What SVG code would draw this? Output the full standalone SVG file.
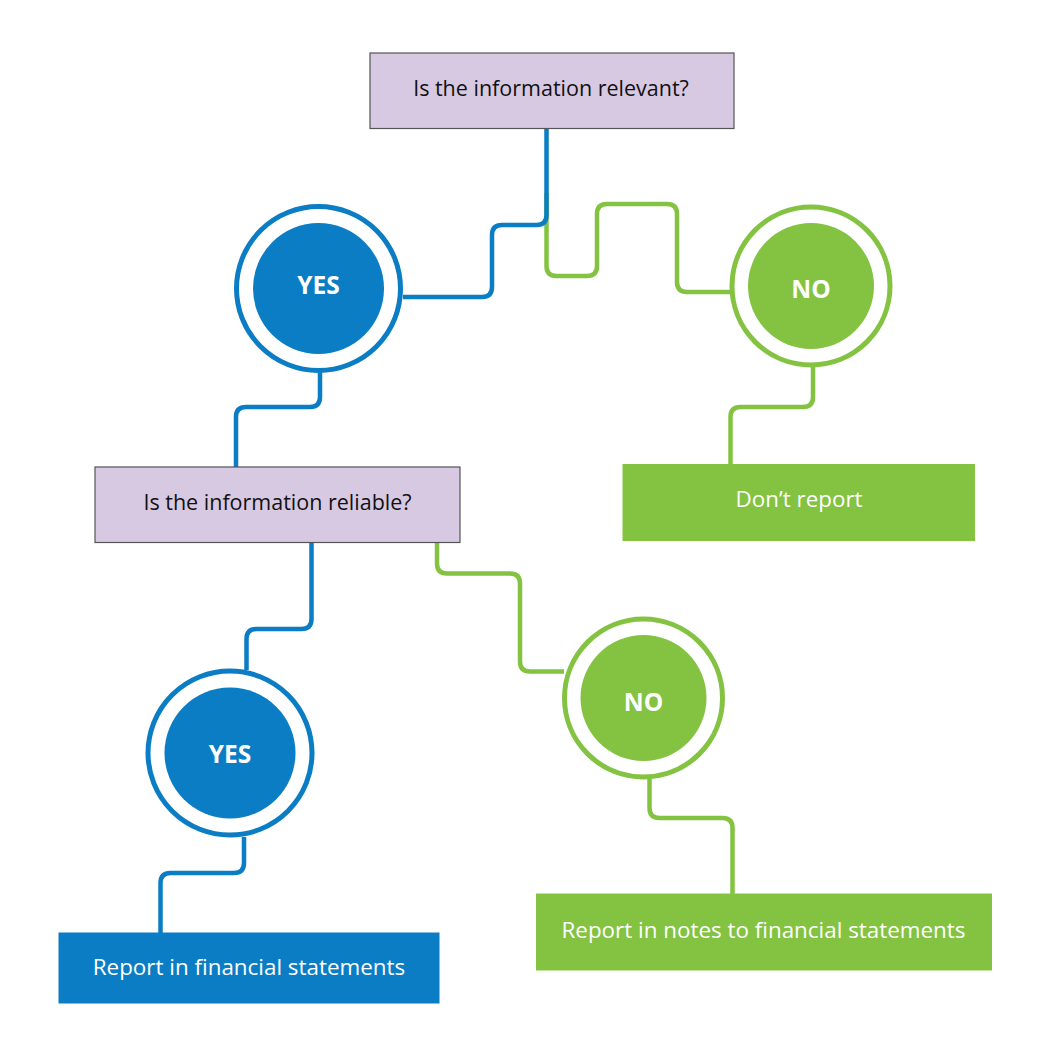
<svg xmlns="http://www.w3.org/2000/svg" width="1047" height="1042" viewBox="0 0 1047 1042">
<style>
.q{fill:#d8c9e3;stroke:#555;stroke-width:1.2}
.qt{font-family:"Open Sans","Noto Sans",sans-serif;font-size:21.5px;fill:#111;text-anchor:middle}
.rt{font-family:"Open Sans","Noto Sans",sans-serif;font-size:22.4px;fill:#fff;text-anchor:middle}
.ct{font-family:"Open Sans","Noto Sans",sans-serif;font-size:24.5px;font-weight:bold;fill:#fff;text-anchor:middle}
.cb{fill:none;stroke-width:4.5;stroke-linejoin:round}
.b{stroke:#0a7dc4}
.g{stroke:#83c341}
.bf{fill:#0a7dc4}
.gf{fill:#83c341}
.ring{fill:#fff;stroke-width:5}
</style>
<rect width="1047" height="1042" fill="#fff"/>
<g id="connectors">
<path class="cb g" d="M546.5 193 V266 Q546.5 276 556.5 276 H587 Q597 276 597 266 V214 Q597 204 607 204 H667 Q677 204 677 214 V282 Q677 292 687 292 H731"/>
<path class="cb b" d="M546.5 129 V215 Q546.5 225 536.5 225 H502 Q492 225 492 235 V287 Q492 297 482 297 H403"/>
<path class="cb b" d="M320 371 V397 Q320 407 310 407 H246 Q236 407 236 417 V467"/>
<path class="cb g" d="M813 367 V397 Q813 407 803 407 H740.5 Q730.5 407 730.5 417 V465"/>
<path class="cb b" d="M311.5 543 V619 Q311.5 629 301.5 629 H256.5 Q246.5 629 246.5 639 V670"/>
<path class="cb g" d="M437 543 V563.5 Q437 573.5 447 573.5 H510 Q520 573.5 520 583.5 V661.5 Q520 671.5 530 671.5 H564"/>
<path class="cb b" d="M244 837 V863 Q244 873 234 873 H170.5 Q160.5 873 160.5 883 V933"/>
<path class="cb g" d="M649.5 777 V808 Q649.5 818 659.5 818 H722.5 Q732.5 818 732.5 828 V894"/>
</g>
<g id="q1">
<rect class="q" x="370" y="53" width="364" height="75.5"/>
<text class="qt" x="551" y="96">Is the information relevant?</text>
</g>
<g id="yes1">
<circle class="ring b" cx="318.5" cy="288.5" r="82"/>
<circle class="bf" cx="318.5" cy="288.5" r="65.5"/>
<text class="ct" x="318.5" y="294">YES</text>
</g>
<g id="no1">
<circle class="ring g" cx="811" cy="286" r="79"/>
<circle class="gf" cx="811" cy="286" r="63"/>
<text class="ct" x="811" y="298">NO</text>
</g>
<g id="dont">
<rect class="gf" x="622.5" y="464" width="352.5" height="77"/>
<text class="rt" x="799" y="507">Don’t report</text>
</g>
<g id="q2">
<rect class="q" x="95" y="467" width="365" height="75.5"/>
<text class="qt" x="277.5" y="510">Is the information reliable?</text>
</g>
<g id="yes2">
<circle class="ring b" cx="230" cy="753" r="82"/>
<circle class="bf" cx="230" cy="753" r="65.5"/>
<text class="ct" x="230" y="763">YES</text>
</g>
<g id="no2">
<circle class="ring g" cx="643.5" cy="698" r="79"/>
<circle class="gf" cx="643.5" cy="698" r="63"/>
<text class="ct" x="643.5" y="711">NO</text>
</g>
<g id="report">
<rect class="bf" x="58.5" y="932.5" width="381" height="71"/>
<text class="rt" x="249" y="975">Report in financial statements</text>
</g>
<g id="notes">
<rect class="gf" x="536" y="893.5" width="456" height="77"/>
<text class="rt" x="763.5" y="938">Report in notes to financial statements</text>
</g>
</svg>
